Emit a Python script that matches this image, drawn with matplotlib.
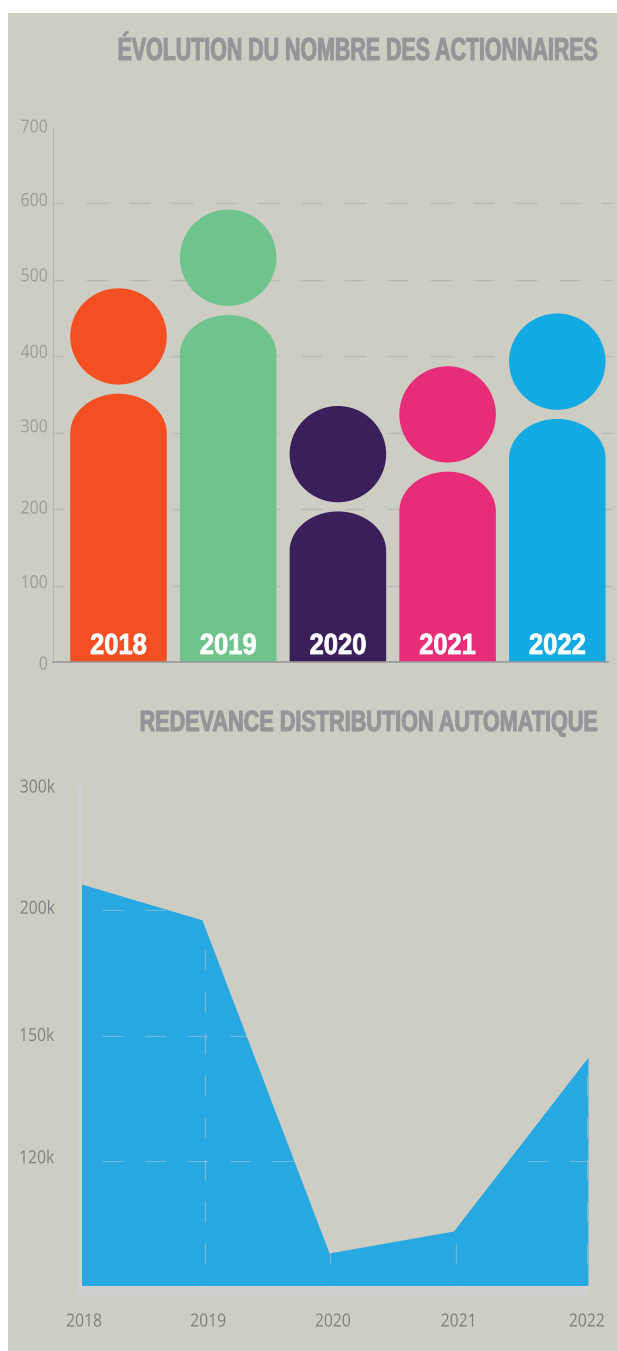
import matplotlib
matplotlib.use('Agg')
import matplotlib.pyplot as plt
from matplotlib.patches import Ellipse, PathPatch, Rectangle
from matplotlib.path import Path
from matplotlib.text import Text, TextPath
from matplotlib.transforms import Affine2D, Bbox, offset_copy

W, H = 617, 1351
FOND = '#cdcdc4'
TITRE = '#939598'

annees = ['2018', '2019', '2020', '2021', '2022']
actionnaires = [489, 592, 335, 387, 456]
cores = ['#f44f23', '#6fc48d', '#3a1f5b', '#e72d77', '#13a9e2']
ticks_actionnaires = [0, 100, 200, 300, 400, 500, 600, 700]
desvio_actionnaires = [-1, 4, 2, 7, 5, 5, 4, 1]  # the labels sit unevenly above their ticks

# positions, the years are not evenly spaced in it
x_redevance = [2018, 2018.952, 2019.955, 2020.938, 2022]
redevance = [215000, 195000, 104600, 107900, 143800]
x_grille = [2018.975, 2019.963, 2020.958, 2021.99]
x_labels = [2018.02, 2019.0, 2019.985, 2020.968, 2021.99]
ticks_redevance = [120000, 150000, 200000, 300000]
labels_redevance = ['120k', '150k', '200k', '300k']
desvio_redevance = [4, 1, 3, -1]

plt.rcParams['lines.scale_dashes'] = False
plt.rcParams['font.family'] = ['Open Sans', 'DejaVu Sans']


class TextoEstreito(Text):
    # text squeezed sideways, no condensed family is installed
    def __init__(self, *args, escala=1.0, largura=None, altura=1.0, grossura=0, **kwargs):
        super().__init__(*args, **kwargs)
        self.escala = escala
        self.largura = largura
        self.altura = altura
        self.grossura = grossura

    def _contorno(self):
        tam = self.get_fontsize() * self.get_figure().dpi / 72
        tp = TextPath((0, 0), self.get_text(), size=tam, prop=self.get_fontproperties())
        ext = tp.get_extents()
        esc = self.largura / ext.width if self.largura else self.escala
        x, y = self.get_transform().transform(self.get_unitless_position())
        ha = self.get_horizontalalignment()
        if ha == 'right':
            dx = x - ext.x1 * esc
        elif ha == 'center':
            dx = x - (ext.x0 + ext.x1) / 2 * esc
        else:
            dx = x - ext.x0 * esc
        dy = y
        if self.get_verticalalignment() == 'center':
            dy = y - tam * 0.36
        return tp, Affine2D().scale(esc, self.altura).translate(dx, dy)

    def draw(self, renderer):
        if not self.get_visible() or not self.get_text():
            return
        tp, trans = self._contorno()
        gc = renderer.new_gc()
        gc.set_foreground(self.get_color())
        gc.set_linewidth(self.grossura)
        gc.set_joinstyle('round')
        gc.set_antialiased(True)
        cor = matplotlib.colors.to_rgba(self.get_color())
        renderer.draw_path(gc, tp, trans, rgbFace=cor)
        gc.restore()

    def get_window_extent(self, renderer=None, dpi=None):
        tp, trans = self._contorno()
        return Bbox(tp.get_extents(trans))


def px(v):
    return v * 72 / 100


def eixo(fig, x0, y0, x1, y1):
    # box given in image pixels, y going down
    ax = fig.add_axes([x0 / W, 1 - y1 / H, (x1 - x0) / W, (y1 - y0) / H])
    ax.patch.set_alpha(0)
    for s in ax.spines.values():
        s.set_visible(False)
    return ax


def faixa(fig, x0, y0, x1, y1, cor, zorder=1):
    fig.add_artist(Rectangle((x0 / W, 1 - y1 / H), (x1 - x0) / W, (y1 - y0) / H, transform=fig.transFigure,
                             facecolor=cor, edgecolor='none', zorder=zorder))


def rotulo(ax, x, y, s, dx=0, dy=0, **kwargs):
    t = TextoEstreito(x, y, s, transform=offset_copy(ax.transData, ax.figure, x=dx, y=dy, units='dots'),
                      clip_on=False, **kwargs)
    ax.add_artist(t)


def titulo(fig, y, s, largura, tamanho, altura):
    fig.add_artist(TextoEstreito(597 / W, 1 - y / H, s, transform=fig.transFigure, ha='right', va='baseline',
                                 color=TITRE, fontsize=tamanho, fontweight='bold', family='Liberation Sans',
                                 largura=largura, altura=altura, grossura=0.7))


def corpo(x, topo, cor, ax):
    # body of the figure, a bar with a rounded top
    l = 0.44
    r = 52
    k = 0.5523
    verts = [(x - l, 0), (x - l, topo - r),
             (x - l, topo - r + r * k), (x - l * k, topo), (x, topo),
             (x + l * k, topo), (x + l, topo - r + r * k), (x + l, topo - r),
             (x + l, 0), (x - l, 0)]
    codes = [Path.MOVETO, Path.LINETO, Path.CURVE4, Path.CURVE4, Path.CURVE4,
             Path.CURVE4, Path.CURVE4, Path.CURVE4, Path.LINETO, Path.CLOSEPOLY]
    ax.add_patch(PathPatch(Path(verts, codes), facecolor=cor, edgecolor='none', zorder=3))


def grafico_actionnaires(fig):
    ax = eixo(fig, 53, 127, 613, 662)
    passo = 109.7
    ax.set_xlim((53 - 118.5) / passo, (613 - 118.5) / passo)
    ax.set_ylim(0, 700)
    ax.set_xticks([])
    ax.set_yticks([])
    x0 = ax.get_xlim()[0]

    for t in ticks_actionnaires[1:-1]:
        ax.plot(ax.get_xlim(), [t, t], color='#b8b8b1', lw=px(1.2), zorder=1,
                linestyle=(px(10), (px(21), px(22))))
    ax.plot([x0, x0], [0, 700], color='#b8b8b1', lw=px(1), zorder=2, clip_on=False)
    ax.plot([x0, (608 - 118.5) / passo], [0, 0], color='#98989a', lw=px(1.6), zorder=4, clip_on=False)

    for i, v in enumerate(actionnaires):
        corpo(i, v - 138, cores[i], ax)
        ax.add_patch(Ellipse((i, v - 63), 0.88, 126, facecolor=cores[i], edgecolor='none', zorder=3))
        rotulo(ax, i, 0, annees[i], dy=8, ha='center', va='baseline', color='white', fontsize=21,
               fontweight='bold', family='Liberation Sans', largura=55, grossura=0.6, zorder=5)

    for t, d in zip(ticks_actionnaires, desvio_actionnaires):
        rotulo(ax, x0, t, str(t), dx=-6, dy=d, ha='right', va='center', color='#9a9b9b', fontsize=13, escala=0.88)


def grafico_redevance(fig):
    ax = eixo(fig, 81.5, 785, 588, 1286)
    ax.set_yscale('function', functions=(lambda v: -1 / v, lambda u: -1 / u))
    ax.set_xlim(2018, 2022)
    ax.set_ylim(100000, 300000)
    ax.set_xticks([])
    ax.set_yticks([])
    ax.minorticks_off()

    faixa(fig, 76.8, 785, 81.5, 1295, '#d0d0d0')
    faixa(fig, 76.8, 1286, 588, 1295, '#d0d0d0')

    ax.fill_between(x_redevance, redevance, 100000, color='#28a8e0', linewidth=0, zorder=2)

    for t in ticks_redevance[:-1]:
        ax.plot([2018, 2022], [t, t], color='#d6d6d6', alpha=0.4, lw=px(1.2), zorder=3,
                linestyle=(px(-20.5 + 43), (px(21), px(21.5))))
    for x in x_grille:
        ax.plot([x, x], [100000, 300000], color='#d6d6d6', alpha=0.4, lw=px(1.3), zorder=3, clip_on=False,
                linestyle=(px(20), (px(21), px(21))))

    for t, lab, d in zip(ticks_redevance, labels_redevance, desvio_redevance):
        rotulo(ax, 2018, t, lab, dx=-61, dy=d, ha='left', va='center', color='#808080', fontsize=13, escala=0.87)
    for x, lab in zip(x_labels, annees):
        rotulo(ax, x, 100000, lab, dy=-34, ha='center', va='center', color='#808080', fontsize=13, escala=0.87)


fig = plt.figure(figsize=(W / 100, H / 100), dpi=100, facecolor='white')
faixa(fig, 8, 13, W, H, FOND, zorder=-1)

titulo(fig, 60, 'ÉVOLUTION DU NOMBRE DES ACTIONNAIRES', 478, 16, 23 / 16)
titulo(fig, 731, 'REDEVANCE DISTRIBUTION AUTOMATIQUE', 456, 16, 21 / 16)

grafico_actionnaires(fig)
grafico_redevance(fig)

fig.savefig('out.png', dpi=100, facecolor='white')
